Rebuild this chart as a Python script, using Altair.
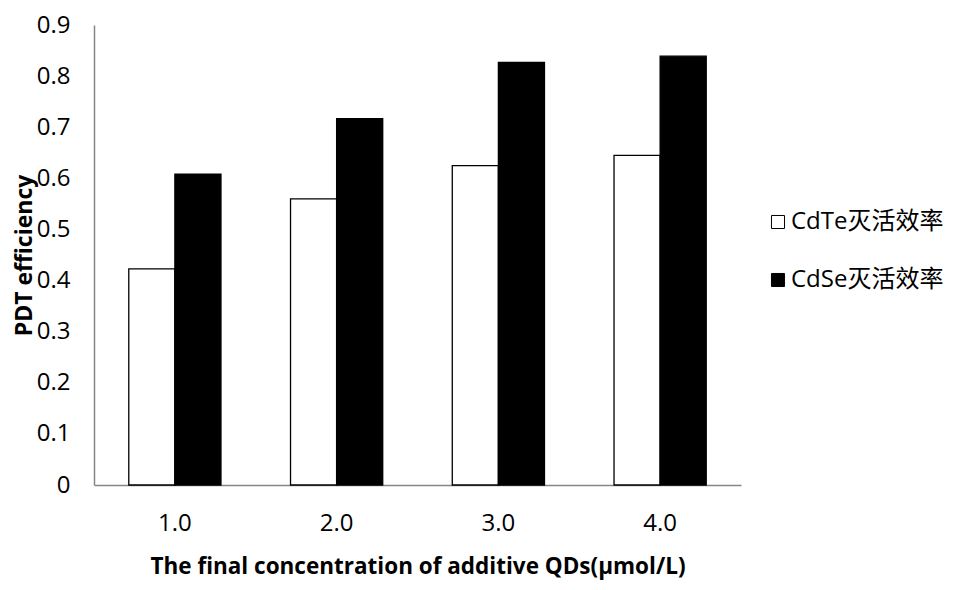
import altair as alt
import pandas as pd

concentrations = ["1.0", "2.0", "3.0", "4.0"]
series = ["CdTe灭活效率", "CdSe灭活效率"]
cdte = [0.423, 0.560, 0.625, 0.645]
cdse = [0.608, 0.717, 0.827, 0.839]
y_ticks = [0, 0.1, 0.2, 0.3, 0.4, 0.5, 0.6, 0.7, 0.8, 0.9]

rows = []
for i, c in enumerate(concentrations):
    rows.append({"conc": c, "series": series[0], "value": cdte[i]})
    rows.append({"conc": c, "series": series[1], "value": cdse[i]})
df = pd.DataFrame(rows)

FONT = "Open Sans, Noto Sans CJK SC, sans-serif"

chart = alt.Chart(df).mark_bar(stroke="black", strokeWidth=1.3).encode(
    x=alt.X(
        "conc:N", sort=concentrations,
        title="The final concentration of additive QDs(μmol/L)",
        scale=alt.Scale(paddingInner=0.43, paddingOuter=0.215),
        axis=alt.Axis(labelAngle=0, ticks=False, domainColor="#868686", domainWidth=1.5,
                      labelPadding=26, labelFontSize=24, labelFont=FONT, labelColor="black",
                      titleFont=FONT, titleFontSize=22.5, titleFontWeight="bold", titleColor="black",
                      titlePadding=20),
    ),
    xOffset=alt.XOffset("series:N", sort=series),
    y=alt.Y(
        "value:Q", title="PDT efficiency",
        scale=alt.Scale(domain=[0, 0.9], nice=False),
        axis=alt.Axis(values=y_ticks, ticks=False, grid=False, domainColor="#868686", domainWidth=1.5,
                      labelExpr="datum.value == 0 ? '0' : format(datum.value, '.1f')",
                      labelPadding=24, labelFontSize=24, labelFont=FONT, labelColor="black",
                      titleFont=FONT, titleFontSize=23, titleFontWeight="bold", titleColor="black",
                      titlePadding=0),
    ),
    fill=alt.Fill(
        "series:N", sort=series, title=None,
        scale=alt.Scale(domain=series, range=["white", "black"]),
        legend=alt.Legend(orient="none", legendX=672, legendY=185, symbolType="square",
                          symbolSize=170, symbolStrokeColor="black", symbolStrokeWidth=1,
                          labelFont=FONT, labelFontSize=24, labelColor="black", labelLimit=300,
                          rowPadding=34, labelOffset=1),
    ),
).properties(
    width=647, height=460,
    padding={"left": 5, "top": 5, "right": 0, "bottom": 3},
).configure_view(strokeWidth=0)

chart.save("out.html", embed_options={"renderer": "svg", "actions": False})
